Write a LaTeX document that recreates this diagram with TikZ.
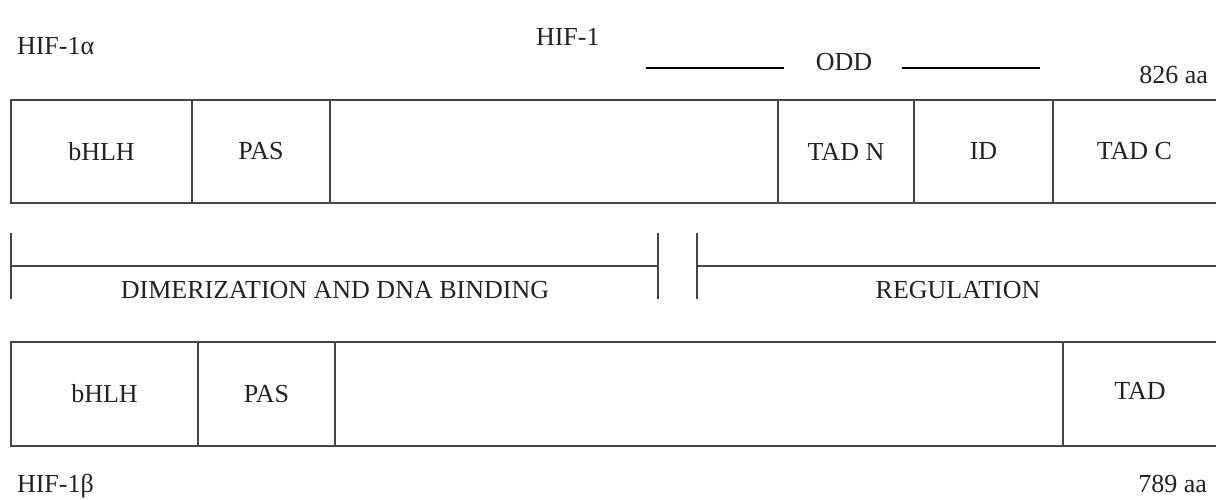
\documentclass[tikz,border=0pt]{standalone}
\usepackage{fontspec}
\setmainfont{Liberation Serif}
\definecolor{ink}{HTML}{222222}
\definecolor{frame}{HTML}{454545}
\begin{document}
\begin{tikzpicture}[x=1pt,y=-1pt,
  every node/.style={text=ink,font=\fontsize{26}{30}\selectfont,inner sep=0pt,outer sep=0pt},
  seg/.style={draw=frame,line width=1.7pt,rectangle},
  rowA/.style={seg,minimum height=103pt},
  rowB/.style={seg,minimum height=104pt},
  bar/.style={draw=frame,line width=1.7pt},
  oddline/.style={draw=black,line width=1.5pt}]
\useasboundingbox (0,0) rectangle (1216,499);

% labels above the alpha subunit
\node[anchor=base west] (alpha) at (17,54) {HIF-1α};
\node[anchor=base west] (hif) at (536,45) {HIF-1};
\node[anchor=base] (odd) at (844,70) {ODD};
\node[anchor=base east] (lenA) at (1208,83) {826 aa};
\coordinate (oddL1) at (646,68);
\coordinate (oddL2) at (784,68);
\coordinate (oddR1) at (902,68);
\coordinate (oddR2) at (1040,68);
\draw[oddline] (oddL1) -- (oddL2);
\draw[oddline] (oddR1) -- (oddR2);

% HIF-1 alpha domains
\node[rowA,minimum width=181pt] (a1) at (101.5,151.5) {bHLH};
\node[rowA,minimum width=138pt] (a2) at (261,151.5) {PAS};
\node[rowA,minimum width=448pt] (a3) at (554,151.5) {};
\node[rowA,minimum width=136pt] (a4) at (846,151.5) {TAD N};
\node[rowA,minimum width=139pt] (a5) at (983.5,151.5) {ID};
\node[rowA,minimum width=169pt] (a6) at (1137.5,151.5) {};
\node (a6t) at (1134.5,151.5) {TAD C};

% functional regions
\coordinate (d1t) at (11,233);  \coordinate (d1b) at (11,299);
\coordinate (d2t) at (658,233); \coordinate (d2b) at (658,299);
\coordinate (r1t) at (697,233); \coordinate (r1b) at (697,299);
\coordinate (d1) at (11,266); \coordinate (d2) at (658,266);
\coordinate (r1) at (697,266); \coordinate (r2) at (1220,266);
\draw[bar] (d1t) -- (d1b);
\draw[bar] (d2t) -- (d2b);
\draw[bar] (r1t) -- (r1b);
\draw[bar] (d1) -- (d2);
\draw[bar] (r1) -- (r2);
\node[anchor=base] (dim) at (335,298) {DIMERIZATION AND DNA BINDING};
\node[anchor=base] (reg) at (958,298) {REGULATION};

% HIF-1 beta domains
\node[rowB,minimum width=187pt] (b1) at (104.5,394) {bHLH};
\node[rowB,minimum width=137pt] (b2) at (266.5,394) {PAS};
\node[rowB,minimum width=728pt] (b3) at (699,394) {};
\node[rowB,minimum width=159pt] (b4) at (1142.5,394) {};
\node (b4t) at (1140,391) {TAD};

\node[anchor=base west] (beta) at (17,492) {HIF-1β};
\node[anchor=base east] (lenB) at (1207,492) {789 aa};
\end{tikzpicture}
\end{document}
